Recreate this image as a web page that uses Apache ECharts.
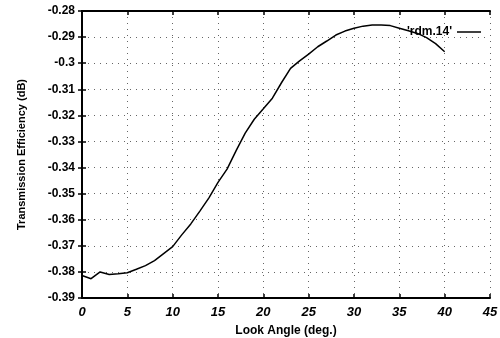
<!DOCTYPE html>
<html>
<head>
<meta charset="utf-8">
<script src="https://cdn.jsdelivr.net/npm/echarts@6/dist/echarts.min.js"></script>
<style>html,body{margin:0;padding:0;background:#fff}#c{width:500px;height:338px}</style>
</head>
<body>
<div id="c"></div>
<script>
var seriesName = "'rdm.14'";
var angles = [0,1,2,3,4,5,6,7,8,9,10,11,12,13,14,15,16,17,18,19,20,21,22,23,24,25,26,27,28,29,30,31,32,33,34,35,36,37,38,39,40];
var efficiency = [-0.3814,-0.3826,-0.3800,-0.3810,-0.3807,-0.3803,-0.3790,-0.3776,-0.3757,-0.3730,-0.3703,-0.3658,-0.3616,-0.3567,-0.3516,-0.3457,-0.3406,-0.3335,-0.3268,-0.3215,-0.3175,-0.3134,-0.3075,-0.3020,-0.2991,-0.2965,-0.2937,-0.2915,-0.2892,-0.2877,-0.2866,-0.2858,-0.2854,-0.2854,-0.2856,-0.2866,-0.2876,-0.2886,-0.2902,-0.2925,-0.2956];
var xTicks = {min: 0, max: 45, interval: 5};
var yTicks = {min: -0.39, max: -0.28, interval: 0.01};
var xTitle = 'Look Angle (deg.)';
var yTitle = 'Transmission Efficiency (dB)';

var font = 'Liberation Sans, Arial, sans-serif';
var chart = echarts.init(document.getElementById('c'));
var data = angles.map(function(a, i){ return [a, efficiency[i]]; });
var yFmt = function(v){ return String(Math.round(v*100)/100); };
var axisBase = {
  axisLine: {show: true, lineStyle: {color: '#000', width: 2}},
  axisTick: {show: true, inside: true, length: 4, lineStyle: {color: '#000', width: 1.5}}
};
chart.setOption({
  animation: false,
  backgroundColor: '#fff',
  grid: {left: 82, right: 10, top: 11, bottom: 40, containLabel: false, outerBoundsMode: 'none'},
  legend: {
    show: true, orient: 'horizontal',
    data: [{name: seriesName, icon: 'rect'}], right: 14, top: 21, align: 'right',
    itemWidth: 24, itemHeight: 1.5, itemGap: 5,
    textStyle: {fontFamily: font, fontWeight: 'bold', fontSize: 12, color: '#000', padding: [0, 0, 0, 0]}
  },
  xAxis: [
    Object.assign({}, axisBase, {
      type: 'value', min: xTicks.min, max: xTicks.max, interval: xTicks.interval,
      name: xTitle, nameLocation: 'middle', nameGap: 27,
      nameTextStyle: {fontFamily: font, fontWeight: 'bold', fontSize: 12, color: '#000'},
      axisLabel: {fontFamily: font, fontWeight: 'bold', fontStyle: 'italic', fontSize: 13, color: '#000', margin: 8},
      splitLine: {show: true, lineStyle: {type: [1, 5], color: '#666', width: 1}}
    }),
    Object.assign({}, axisBase, {
      type: 'value', position: 'top', min: xTicks.min, max: xTicks.max, interval: xTicks.interval,
      axisLabel: {show: false}, splitLine: {show: false}
    })
  ],
  yAxis: [
    Object.assign({}, axisBase, {
      type: 'value', min: yTicks.min, max: yTicks.max, interval: yTicks.interval,
      name: yTitle, nameLocation: 'middle', nameGap: 55,
      nameTextStyle: {fontFamily: font, fontWeight: 'bold', fontSize: 11, color: '#000'},
      axisLabel: {fontFamily: font, fontWeight: 'bold', fontSize: 12, color: '#000', margin: 7, formatter: yFmt},
      splitLine: {show: true, lineStyle: {type: [1, 5], color: '#666', width: 1}}
    }),
    Object.assign({}, axisBase, {
      type: 'value', position: 'right', min: yTicks.min, max: yTicks.max, interval: yTicks.interval,
      axisLabel: {show: false}, splitLine: {show: false}
    })
  ],
  series: [{
    name: seriesName, type: 'line', data: data, showSymbol: false, smooth: false,
    lineStyle: {color: '#000', width: 1.5}, itemStyle: {color: '#000'}
  }]
});
</script>
</body>
</html>
